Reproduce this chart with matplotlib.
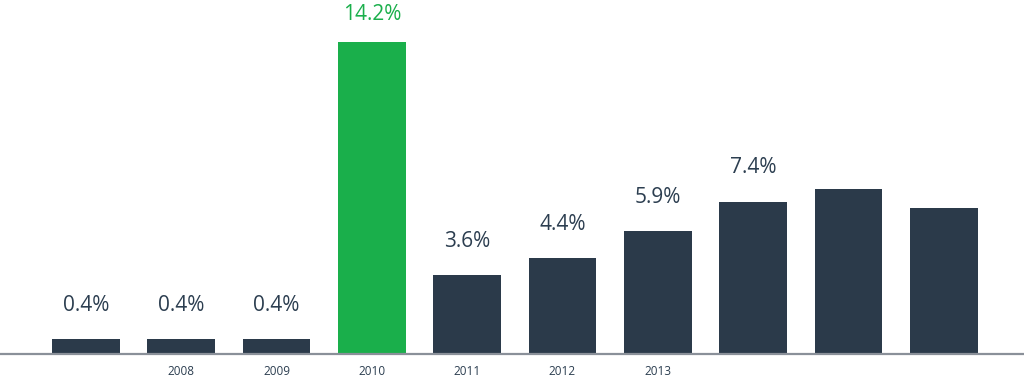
import matplotlib
matplotlib.use("Agg")
import matplotlib.pyplot as plt

# Data
bar_values = [0.66, 0.66, 0.66, 14.2, 3.57, 4.36, 5.57, 6.91, 7.52, 6.64]
value_labels = ["0.4%", "0.4%", "0.4%", "14.2%", "3.6%", "4.4%", "5.9%", "7.4%", "", ""]
tick_labels = ["", "2008", "2009", "2010", "2011", "2012", "2013", "", "", ""]
highlight = [False, False, False, True, False, False, False, False, False, False]

DARK = "#2b3a4a"
GREEN = "#1aaf4b"
TEXT = "#2c3e50"

W, H, DPI = 1024, 386, 100
fig = plt.figure(figsize=(W / DPI, H / DPI), dpi=DPI)
base_px = 32
ax = fig.add_axes([0, base_px / H, 1, 1 - base_px / H])

px_per_unit = 22.0
spacing = 95.3
x0 = 86
ax.set_ylim(0, (H - base_px) / px_per_unit)
ax.set_xlim(-x0 / spacing, (W - x0) / spacing)

xs = list(range(len(bar_values)))
colors = [GREEN if h else DARK for h in highlight]
ax.bar(xs, bar_values, width=0.71, color=colors, zorder=2)

for spine in ["top", "right", "left"]:
    ax.spines[spine].set_visible(False)
ax.spines["bottom"].set_color("#8a9099")
ax.spines["bottom"].set_linewidth(1.6)
ax.set_yticks([])
ax.set_xticks(xs)
ax.set_xticklabels(tick_labels, fontsize=8.5, color=TEXT, family="Open Sans")
ax.tick_params(axis="x", length=0, pad=8)

ymax = (H - base_px) / px_per_unit
for x, v, lab, h in zip(xs, bar_values, value_labels, highlight):
    if not lab:
        continue
    y = min(v + 34 / px_per_unit, ymax - 15 / px_per_unit)
    ax.text(x, y, lab, ha="center", va="center", fontsize=15,
            color=GREEN if h else TEXT, family="Open Sans")

fig.savefig("out.png", dpi=DPI)
